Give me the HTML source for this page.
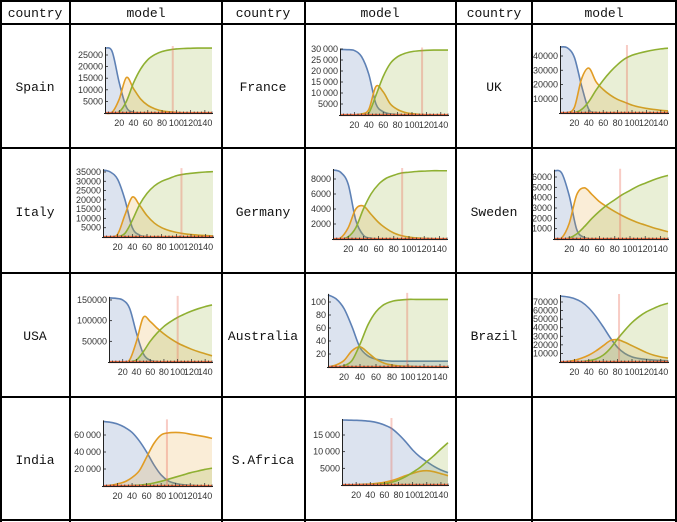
<!DOCTYPE html>
<html><head><meta charset="utf-8">
<style>
html,body{margin:0;padding:0;background:#fff;width:677px;height:522px;overflow:hidden}
svg{display:block}
.cell{font-family:"Liberation Mono","DejaVu Sans Mono",monospace;font-size:13px;fill:#111}
.tk{font-family:"Liberation Sans",sans-serif;font-size:9px;fill:#333}
</style></head><body>
<svg id="root" width="677" height="522" viewBox="0 0 677 522">
<g id="grid"></g>
<g id="labels"></g>
<g id="charts"></g>
</svg>
<script>
const days = [0,10,20,30,40,50,60,70,80,90,100,110,120,130,140,150];
const xTicks = [20,40,60,80,100,120,140];

const spainS = [28000,26500,13000,2500,300,0,0,0,0,0,0,0,0,0,0,0];
const spainI = [0,300,6000,15300,10500,6000,3300,1800,900,500,250,100,50,0,0,0];
const spainR = [0,0,500,5000,13000,19000,23000,25200,26500,27200,27600,27800,27900,28000,28000,28000];
const spainTicks = [5000,10000,15000,20000,25000];

const franceS = [29800,29700,29300,26500,18500,5000,1500,500,200,0,0,0,0,0,0,0];
const franceI = [0,0,100,500,2500,13000,10500,5000,2500,1200,600,250,100,50,0,0];
const franceR = [0,0,0,200,1000,9000,17500,23500,26500,28000,28800,29200,29400,29500,29500,29500];
const franceTicks = [5000,10000,15000,20000,25000,30000];

const ukS = [46300,45800,39000,19000,2500,300,0,0,0,0,0,0,0,0,0,0];
const ukI = [0,200,4000,24000,31500,22000,16500,12500,9500,7500,5500,4200,3200,2500,1900,1500];
const ukR = [0,0,200,2500,8000,16000,23000,29000,34000,38000,40500,42000,43200,44200,45000,45500];
const ukTicks = [10000,20000,30000,40000];

const italyS = [36000,35000,31000,20000,5000,1000,200,0,0,0,0,0,0,0,0,0];
const italyI = [0,100,1500,12000,21500,17000,11500,7500,5000,3500,2500,1800,1300,1000,800,600];
const italyR = [0,0,200,2000,9000,17500,23500,27500,30000,31500,33000,33800,34300,34700,35000,35200];
const italyTicks = [5000,10000,15000,20000,25000,30000,35000];

const germanyS = [9200,8900,7300,2500,500,100,0,0,0,0,0,0,0,0,0,0];
const germanyI = [0,150,1500,4000,4400,3300,2200,1400,800,450,250,150,80,40,20,10];
const germanyR = [0,0,300,1500,4000,6000,7300,8100,8500,8800,8900,9000,9050,9100,9100,9100];
const germanyTicks = [2000,4000,6000,8000];

const swedenS = [6600,6400,4200,900,150,0,0,0,0,0,0,0,0,0,0,0];
const swedenI = [0,100,1500,4300,4950,4300,3600,3100,2650,2250,1900,1600,1350,1100,900,700];
const swedenR = [0,0,100,500,1200,2000,2700,3300,3800,4300,4700,5100,5400,5700,5950,6150];
const swedenTicks = [1000,2000,3000,4000,5000,6000];

const usaS = [155000,154000,150000,130000,70000,20000,4000,1000,0,0,0,0,0,0,0,0];
const usaI = [0,0,500,5000,50000,108000,98000,82000,68000,56000,46000,38000,31000,25000,20000,15000];
const usaR = [0,0,0,500,5000,25000,50000,70000,86000,98000,108000,116000,123000,129000,134000,138000];
const usaTicks = [50000,100000,150000];

const australiaS = [111,105,90,62,30,17,12,10,9,9,9,9,9,9,9,9];
const australiaI = [0,3,10,25,31,22,12,6,3,1.5,1,0.5,0.3,0,0,0];
const australiaR = [0,0,2,10,35,65,85,96,101,103,104,104,104,104,104,104];
const australiaTicks = [20,40,60,80,100];

const brazilS = [77000,76000,74000,70000,63000,53000,41000,28000,17000,10000,6000,4000,3000,2300,1800,1500];
const brazilI = [0,500,2000,4500,8000,13000,19000,25000,26000,23000,19000,15000,11000,8000,6000,4500];
const brazilR = [0,0,200,500,1500,3500,8000,16000,27000,37000,46000,53000,58500,62500,66000,68500];
const brazilTicks = [10000,20000,30000,40000,50000,60000,70000];

const indiaS = [76000,75000,73000,69000,63000,53000,40000,25000,13000,6000,3000,1500,800,400,200,100];
const indiaI = [0,800,2500,5000,10000,18000,34000,50000,60000,62500,63000,62500,61000,59500,58000,56000];
const indiaR = [0,0,100,300,600,1000,2000,3500,5500,8000,10500,13000,15500,17500,19500,21000];
const indiaTicks = [20000,40000,60000];

const safricaS = [19500,19450,19400,19300,19100,18700,18000,17000,15200,13000,10500,8500,7000,5600,4500,3700];
const safricaI = [0,50,100,200,300,500,800,1300,2000,2800,3500,4100,4300,4000,3400,2800];
const safricaR = [0,0,0,50,100,200,400,800,1500,2500,3800,5200,7000,8800,10800,12700];
const safricaTicks = [5000,10000,15000];

const countries = ["Spain","France","UK","Italy","Germany","Sweden","USA","Australia","Brazil","India","S.Africa"];
const redDay = [95,114,93,107,91,87,100,99,82,88,70];

const NS="http://www.w3.org/2000/svg";
function mk(tag, attrs, parent){const e=document.createElementNS(NS,tag);for(const k in attrs)e.setAttribute(k,attrs[k]);parent.appendChild(e);return e;}

// grid
const grid=document.getElementById('grid');
const vx=[1,70,222,305,456,532,676], hy=[1,24,148,273,397,520];
vx.forEach(x=>{const l=mk('line',{x1:x,y1:0,x2:x,y2:522,stroke:'#000','stroke-width':2},grid);

});
hy.forEach(y=>{const l=mk('line',{x1:0,y1:y,x2:677,y2:y,stroke:'#000','stroke-width':2},grid);

});

const labels=document.getElementById('labels');
const colCenters=[[35,146],[263,380],[494,604]];
colCenters.forEach(([a,b])=>{
  const t1=mk('text',{x:a,y:17,'text-anchor':'middle',class:'cell'},labels);t1.textContent='country';
  
  
  const t2=mk('text',{x:b,y:17,'text-anchor':'middle',class:'cell'},labels);t2.textContent='model';
  
  
});
const rowCenters=[86,211,335,459];
countries.forEach((c,i)=>{
  const r=Math.floor(i/3), col=i%3;
  const t=mk('text',{x:colCenters[col][0],y:rowCenters[r]+5,'text-anchor':'middle',class:'cell'},labels);
  t.textContent=c;
  
  
});

// chart geometry (pixels): x0 = day 0, x1 = day 150, y0 = value 0, yRef = pixel of vRef
const charts=[
 {S:spainS,I:spainI,R:spainR,ticks:spainTicks,sp:false,x0:105,x1:212,y0:113,vRef:25000,yRef:55},
 {S:franceS,I:franceI,R:franceR,ticks:franceTicks,sp:true,x0:340,x1:448,y0:115,vRef:30000,yRef:49},
 {S:ukS,I:ukI,R:ukR,ticks:ukTicks,sp:false,x0:560,x1:668,y0:113,vRef:40000,yRef:56},
 {S:italyS,I:italyI,R:italyR,ticks:italyTicks,sp:false,x0:103,x1:213,y0:237,vRef:35000,yRef:172},
 {S:germanyS,I:germanyI,R:germanyR,ticks:germanyTicks,sp:false,x0:333,x1:447,y0:239,vRef:8000,yRef:179},
 {S:swedenS,I:swedenI,R:swedenR,ticks:swedenTicks,sp:false,x0:554,x1:668,y0:239,vRef:6000,yRef:177},
 {S:usaS,I:usaI,R:usaR,ticks:usaTicks,sp:false,x0:109,x1:212,y0:362,vRef:150000,yRef:300},
 {S:australiaS,I:australiaI,R:australiaR,ticks:australiaTicks,sp:false,x0:328,x1:448,y0:367,vRef:100,yRef:302},
 {S:brazilS,I:brazilI,R:brazilR,ticks:brazilTicks,sp:false,x0:560,x1:668,y0:362,vRef:70000,yRef:302},
 {S:indiaS,I:indiaI,R:indiaR,ticks:indiaTicks,sp:true,x0:103,x1:212,y0:486,vRef:60000,yRef:435},
 {S:safricaS,I:safricaI,R:safricaR,ticks:safricaTicks,sp:true,x0:342,x1:448,y0:485,vRef:15000,yRef:435}
];

function fmt(v,sp){ if(sp && v>=10000){const s=String(v);return s.slice(0,s.length-3)+'\u2009'+s.slice(-3);} return String(v); }

function smoothPath(pts){
  let d='M'+pts[0][0].toFixed(2)+','+pts[0][1].toFixed(2);
  for(let i=0;i<pts.length-1;i++){
    const p0=pts[Math.max(0,i-1)],p1=pts[i],p2=pts[i+1],p3=pts[Math.min(pts.length-1,i+2)];
    const c1=[p1[0]+(p2[0]-p0[0])/6,p1[1]+(p2[1]-p0[1])/6];
    const c2=[p2[0]-(p3[0]-p1[0])/6,p2[1]-(p3[1]-p1[1])/6];
    d+=' C'+c1[0].toFixed(2)+','+c1[1].toFixed(2)+' '+c2[0].toFixed(2)+','+c2[1].toFixed(2)+' '+p2[0].toFixed(2)+','+p2[1].toFixed(2);
  }
  return d;
}

const chartsG=document.getElementById('charts');
const series=[['S','#5e81b5','rgba(94,129,181,0.22)','susceptible'],['I','#e19c24','rgba(225,156,36,0.18)','infected'],['R','#8fb032','rgba(143,176,50,0.2)','recovered']];
charts.forEach((c,ci)=>{
  const g=mk('g',{},chartsG);
  
  
  const sx=t=>c.x0+(c.x1-c.x0)*t/150;
  const sy=v=>c.y0-(c.y0-c.yRef)*v/c.vRef;
  series.forEach(([k,col,fill,nm])=>{
    const pts=days.map((t,i)=>[sx(t),Math.min(c.y0,sy(c[k][i]))]);
    const d=smoothPath(pts);
    const a=mk('path',{d:d+' L'+sx(150)+','+c.y0+' L'+sx(0)+','+c.y0+' Z',fill:fill,stroke:'none'},g);
    
    
    const l=mk('path',{d:d,fill:'none',stroke:col,'stroke-width':1.6},g);
    
    
  });
  // red vertical marker
  let mx=0;['S','I','R'].forEach(k=>c[k].forEach(v=>{if(v>mx)mx=v;}));
  const rl=mk('line',{x1:sx(redDay[ci]),x2:sx(redDay[ci]),y1:c.y0,y2:sy(mx)-2,stroke:'rgba(235,110,90,0.35)','stroke-width':2},g);
  
  
  // baseline red series
  const bl=mk('line',{x1:sx(0),x2:sx(150),y1:c.y0,y2:c.y0,stroke:'#eb6a40','stroke-width':2.2},g);
  
  
  // axes
  const ax=mk('line',{x1:c.x0-1,x2:c.x1+1,y1:c.y0+0.5,y2:c.y0+0.5,stroke:'#222','stroke-width':1},g);
  
  
  const ay=mk('line',{x1:c.x0+0.5,x2:c.x0+0.5,y1:c.y0,y2:sy(mx)-1,stroke:'#222','stroke-width':1},g);
  
  
  for(let t=5;t<=150;t+=5){
    const big=t%20===0;
    mk('line',{x1:sx(t),x2:sx(t),y1:c.y0,y2:c.y0-(big?3:1.5),stroke:'#222','stroke-width':0.7},g);
  }
  xTicks.forEach(t=>{
    const tx=mk('text',{x:sx(t),y:c.y0+13,'text-anchor':'middle',class:'tk'},g);
    tx.textContent=String(t);
    
    
  });
  c.ticks.forEach(v=>{
    mk('line',{x1:c.x0,x2:c.x0+3,y1:sy(v),y2:sy(v),stroke:'#222','stroke-width':0.8},g);
    const ty=mk('text',{x:c.x0-2,y:sy(v)+3,'text-anchor':'end',class:'tk'},g);
    ty.textContent=fmt(v,c.sp);
    
    
  });
});
</script>
</body></html>
